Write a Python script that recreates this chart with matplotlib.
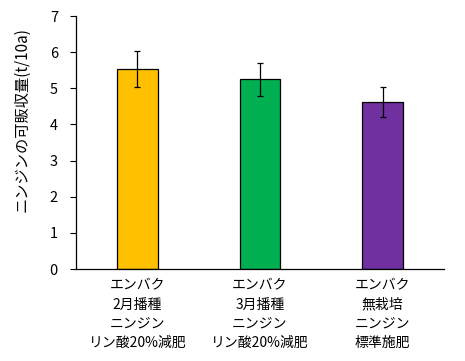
import matplotlib.pyplot as plt

plt.rcParams['font.family'] = ['Noto Sans CJK JP', 'DejaVu Sans']

# data
labels = [
    'エンバク\n2月播種\nニンジン\nリン酸20%減肥',
    'エンバク\n3月播種\nニンジン\nリン酸20%減肥',
    'エンバク\n無栽培\nニンジン\n標準施肥',
]
yields = [5.53, 5.25, 4.62]
errors = [0.50, 0.46, 0.42]
colors = ['#FFC000', '#00B050', '#7030A0']

fig = plt.figure(figsize=(4.65, 3.61), dpi=100)
ax = fig.add_axes([0.1634, 0.2548, 0.7914, 0.7008])

x = list(range(len(labels)))
ax.bar(x, yields, width=0.33, color=colors, edgecolor='black', linewidth=0.9,
       yerr=errors, capsize=2.3, error_kw={'elinewidth': 0.9, 'capthick': 0.9})

ax.set_xlim(-0.5, 2.5)
ax.set_ylim(0, 7)
ax.set_yticks(range(0, 8))
ax.set_xticks(x)
ax.set_xticklabels(labels, fontsize=10, linespacing=1.45)
ax.tick_params(axis='x', length=0, pad=7)
ax.tick_params(axis='y', length=4, width=0.8, labelsize=10.5, pad=9)
ax.set_ylabel('ニンジンの可販収量(t/10a)', fontsize=11)
ax.yaxis.set_label_coords(-0.125, 0.59)

for s in ['top', 'right']:
    ax.spines[s].set_visible(False)
for s in ['left', 'bottom']:
    ax.spines[s].set_linewidth(0.9)

plt.savefig('out.png', dpi=100)
plt.close()
